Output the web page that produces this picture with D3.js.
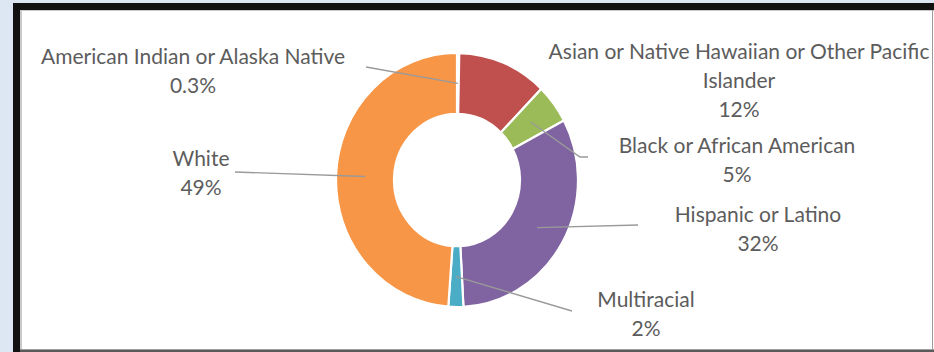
<!DOCTYPE html>
<html>
<head>
<meta charset="utf-8">
<script src="https://cdn.jsdelivr.net/npm/d3@7"></script>
<style>
  html, body { margin: 0; padding: 0; background: #dde7f3; overflow: hidden; width: 934px; height: 352px; }
  svg { display: block; position: absolute; left: 0; top: 0; }
  text { font-family: Lato, "Open Sans", sans-serif; fill: #5c5c5c; }
</style>
</head>
<body>
<svg id="chart" width="934" height="352" viewBox="0 0 934 352"></svg>
<script>
// Enrollment share by race / ethnicity
const categories = [
  "American Indian or Alaska Native",
  "Asian or Native Hawaiian or Other Pacific Islander",
  "Black or African American",
  "Hispanic or Latino",
  "Multiracial",
  "White"
];
const values = [0.3, 12, 5, 32, 2, 49];
const valueLabels = ["0.3%", "12%", "5%", "32%", "2%", "49%"];
const colors = ["#4f81bd", "#c0504d", "#9bbb59", "#8064a2", "#4bacc6", "#f79646"];

// Label placement: centre of the text block, wrap width, leader-line anchor
const labelLayout = [
  { x: 193, y: 55, wrap: 410, anchor: [366, 67] },
  { x: 739, y: 50, wrap: 410, anchor: null },
  { x: 737, y: 144, wrap: 410, anchor: [588, 157], elbow: [580, 157] },
  { x: 758, y: 213, wrap: 410, anchor: [638, 225] },
  { x: 646, y: 298, wrap: 410, anchor: [572, 311] },
  { x: 201, y: 157, wrap: 410, anchor: [235, 172] }
];

const svg = d3.select("#chart");

// frame: heavy top/left rule, thin bottom and right rules
const frame = svg.append("g");
frame.append("rect").attr("x", 13).attr("y", 3).attr("width", 921).attr("height", 349).attr("fill", "#111");
frame.append("rect").attr("x", 20).attr("y", 10).attr("width", 914).attr("height", 340).attr("fill", "#c9c9c9");
frame.append("rect").attr("x", 22).attr("y", 11).attr("width", 912).attr("height", 338.5).attr("fill", "#ffffff");
frame.append("rect").attr("x", 20).attr("y", 349.5).attr("width", 914).attr("height", 2.5).attr("fill", "#5a5a5a");
frame.append("line").attr("x1", 932.5).attr("x2", 932.5).attr("y1", 10).attr("y2", 350)
  .attr("stroke", "#9a9a9a").attr("stroke-width", 1);

// doughnut
const cx = 457, cy = 180, sy = 1.05;
const outerR = 121, innerR = 63;

const pie = d3.pie().sort(null).value(d => d.value);
const arcs = pie(categories.map((c, i) => ({ name: c, value: values[i], color: colors[i], label: valueLabels[i], layout: labelLayout[i] })));
const arc = d3.arc().innerRadius(innerR).outerRadius(outerR);

const ring = svg.append("g").attr("transform", `translate(${cx},${cy}) scale(1,${sy})`);
ring.selectAll("path")
  .data(arcs)
  .join("path")
  .attr("d", arc)
  .attr("fill", d => d.data.color)
  .attr("stroke", "#ffffff")
  .attr("stroke-width", 2.2);

// leader lines from each slice's centroid
const toPage = p => [cx + p[0], cy + p[1] * sy];
const lineGen = d3.line();
svg.append("g").selectAll("path")
  .data(arcs.filter(d => d.data.layout.anchor))
  .join("path")
  .attr("d", d => {
    const pts = [toPage(arc.centroid(d))];
    if (d.data.layout.elbow) pts.push(d.data.layout.elbow);
    pts.push(d.data.layout.anchor);
    return lineGen(pts);
  })
  .attr("fill", "none")
  .attr("stroke", "#9a9a9a")
  .attr("stroke-width", 1.4);

// labels
const fontSize = 21, lineStep = 29;
const labels = svg.append("g");
arcs.forEach(d => {
  const L = d.data.layout;
  const t = labels.append("text")
    .attr("text-anchor", "middle")
    .attr("font-size", fontSize);
  // wrap the category name to the available width
  const words = d.data.name.split(" ");
  const lines = [];
  let cur = [];
  const probe = labels.append("text").attr("font-size", fontSize);
  words.forEach(w => {
    const trial = cur.concat(w).join(" ");
    probe.text(trial);
    if (cur.length && probe.node().getComputedTextLength() > L.wrap) {
      lines.push(cur.join(" "));
      cur = [w];
    } else cur.push(w);
  });
  lines.push(cur.join(" "));
  probe.remove();
  lines.push(d.data.label);
  lines.forEach((ln, k) => {
    t.append("tspan")
      .attr("x", L.x)
      .attr("y", L.y + k * lineStep)
      .attr("dominant-baseline", "central")
      .text(ln);
  });
});
</script>
</body>
</html>
